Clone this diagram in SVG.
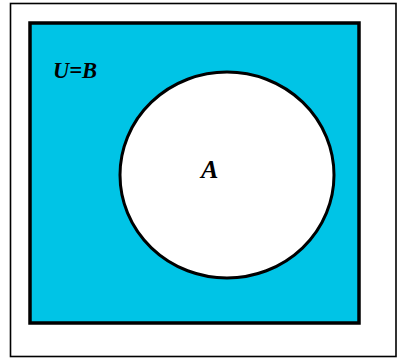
<svg xmlns="http://www.w3.org/2000/svg" width="397" height="360" viewBox="0 0 397 360">
<style>
.lbl{font-family:"Liberation Serif","Times New Roman",serif;font-style:italic;font-weight:bold;fill:#000}
</style>
<rect width="397" height="360" fill="#fff"/>
<g id="frame">
<rect x="10.5" y="3.5" width="385.5" height="353" fill="none" stroke="#000" stroke-width="1.6"/>
</g>
<g id="U">
<rect x="30" y="23" width="329" height="300" fill="#00C4E6" stroke="#000" stroke-width="3.5"/>
<text class="lbl" x="53" y="78" font-size="22.5">U=B</text>
</g>
<g id="A">
<ellipse cx="227" cy="175" rx="107" ry="103" fill="#fff" stroke="#000" stroke-width="3"/>
<text class="lbl" x="201" y="178" font-size="26">A</text>
</g>
<g id="connectors"/>
</svg>
